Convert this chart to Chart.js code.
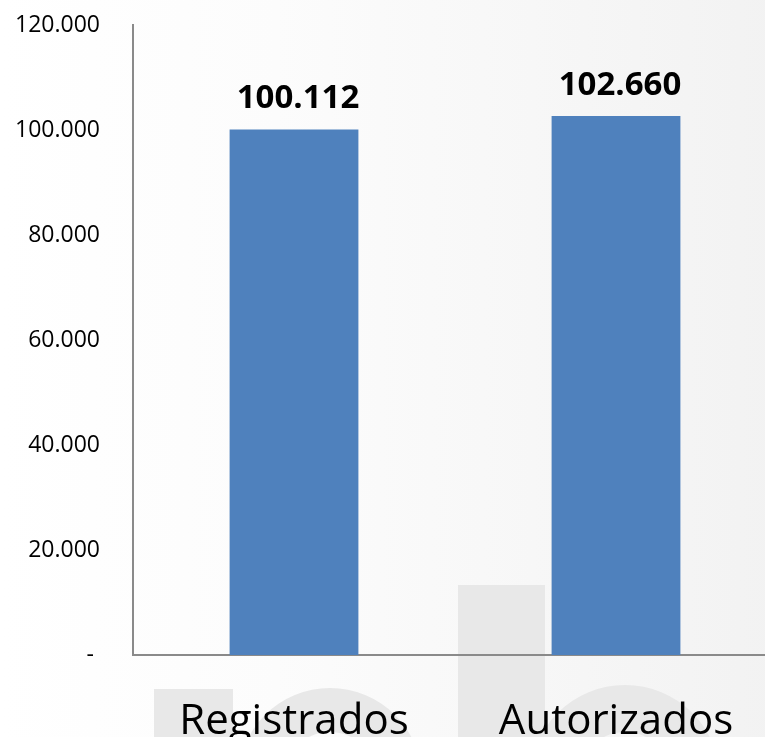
<!DOCTYPE html>
<html><head><meta charset="utf-8">
<script src="https://cdn.jsdelivr.net/npm/chart.js@4"></script>
<style>
html,body{margin:0;padding:0;overflow:hidden;background:#fff;}
#wrap{width:790px;height:737px;position:relative;}
</style></head><body>
<div id="wrap"><canvas id="c"></canvas></div>
<script>
const categories = ['Registrados', 'Autorizados'];
const values = [100112, 102660];
const yMin = 0, yMax = 120000, yStep = 20000;

function fmt(v) {
  if (v === 0) return '- ';
  return String(v).replace(/\B(?=(\d{3})+(?!\d))/g, '.');
}

const bgPlugin = {
  id: 'bg',
  beforeDraw(chart) {
    const ctx = chart.ctx, w = chart.width, h = chart.height;
    ctx.save();
    const g = ctx.createLinearGradient(0, 0, w, 0);
    g.addColorStop(0, '#ffffff');
    g.addColorStop(0.35, '#fcfcfc');
    g.addColorStop(1, '#f2f2f2');
    ctx.fillStyle = g;
    ctx.fillRect(0, 0, w, h);
    // faint watermark logo
    ctx.fillStyle = '#e8e8e8';
    ctx.fillRect(458, 585, 87, 160);
    ctx.fillRect(154, 689, 79, 60);
    ctx.beginPath();
    ctx.arc(330, 780, 92, Math.PI, 2 * Math.PI);
    ctx.arc(330, 780, 48, 2 * Math.PI, Math.PI, true);
    ctx.closePath();
    ctx.fill();
    ctx.beginPath();
    ctx.arc(625, 780, 95, Math.PI, 2 * Math.PI);
    ctx.arc(625, 780, 48, 2 * Math.PI, Math.PI, true);
    ctx.closePath();
    ctx.fill();
    ctx.restore();
  }
};

const labelPlugin = {
  id: 'vlabels',
  afterDatasetsDraw(chart) {
    const ctx = chart.ctx;
    const meta = chart.getDatasetMeta(0);
    ctx.save();
    ctx.font = 'bold 33px "Open Sans"';
    ctx.fillStyle = '#000';
    ctx.textAlign = 'center';
    ctx.textBaseline = 'alphabetic';
    meta.data.forEach((bar, i) => {
      ctx.fillText(fmt(values[i]), bar.x + 4, bar.y - 21);
    });
    ctx.restore();
  }
};

new Chart(document.getElementById('c'), {
  type: 'bar',
  data: {
    labels: categories,
    datasets: [{
      data: values,
      backgroundColor: '#4F81BD',
      borderWidth: 0,
      barPercentage: 0.4,
      categoryPercentage: 1.0
    }]
  },
  options: {
    responsive: true,
    maintainAspectRatio: false,
    animation: false,
    events: [],
    layout: { padding: { top: 25, right: 13, left: 0, bottom: 0 } },
    plugins: { legend: { display: false }, tooltip: { enabled: false } },
    scales: {
      x: {
        grid: { display: false, drawTicks: false },
        border: { display: true, color: '#8a8a8a', width: 2 },
        ticks: { color: '#000', font: { family: 'Open Sans', size: 42 }, padding: 42, maxRotation: 0 },
        afterFit(s) { s.height = 82; s.paddingLeft = 0; s.paddingRight = 0; }
      },
      y: {
        min: yMin, max: yMax,
        grid: { display: false, drawTicks: false },
        border: { display: true, color: '#8a8a8a', width: 2 },
        ticks: { stepSize: yStep, color: '#000', font: { family: 'Open Sans', size: 23 }, padding: 33, callback: (v) => fmt(v) },
        afterFit(s) { s.width = 133; s.paddingTop = 0; s.paddingBottom = 0; }
      }
    }
  },
  plugins: [bgPlugin, labelPlugin]
});
</script>
</body></html>
